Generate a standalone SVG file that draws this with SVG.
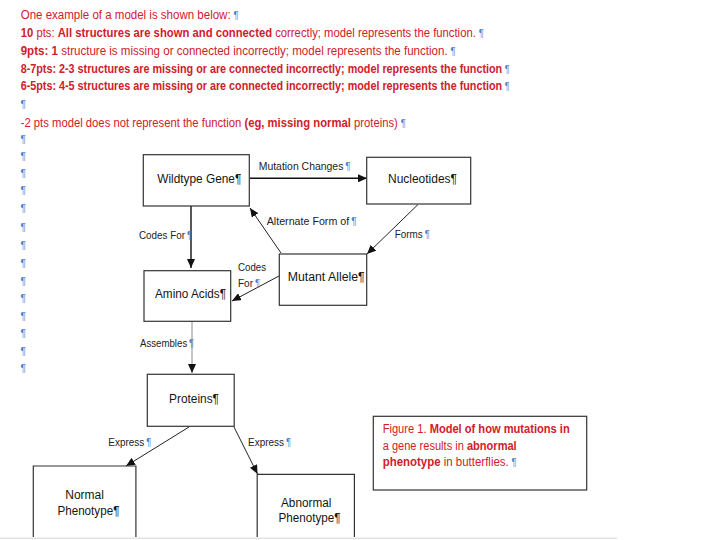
<svg xmlns="http://www.w3.org/2000/svg" width="720" height="540" viewBox="0 0 720 540">
<defs>
<marker id="ah" markerUnits="userSpaceOnUse" markerWidth="9" markerHeight="8" refX="9" refY="4" orient="auto">
<path d="M0,0 L9,4 L0,8 z" fill="#111"/>
</marker>
<style>
.hd{font-family:"Liberation Sans",Arial,sans-serif;font-size:12px;fill:#d0202a}
.b{font-weight:bold}
.pm{font-family:"Liberation Sans",Arial,sans-serif;font-size:10px;fill:#4a7fd0;font-weight:normal}
.box{fill:#fff;stroke:#333;stroke-width:1.2}
.nl{font-family:"Liberation Sans",Arial,sans-serif;font-size:12px;fill:#151515}
.cl{font-family:"Liberation Sans",Arial,sans-serif;font-size:10.5px;fill:#222}
.cn{fill:none;stroke:#222;stroke-width:1;marker-end:url(#ah)}
.thick{stroke:#111;stroke-width:1.4}
.gray{stroke:#8a8a8a}
</style>
</defs>
<rect width="720" height="540" fill="#fff"/>

<g id="header">
<text class="hd" x="20.7" y="19" textLength="218" lengthAdjust="spacingAndGlyphs">One example of a model is shown below:<tspan class="pm" dx="3">¶</tspan></text>
<text class="hd" x="20.7" y="36.7" textLength="463" lengthAdjust="spacingAndGlyphs"><tspan class="b">10</tspan> pts: <tspan class="b">All structures are shown and connected</tspan> correctly; model represents the function.<tspan class="pm" dx="3">¶</tspan></text>
<text class="hd" x="20.7" y="55" textLength="435" lengthAdjust="spacingAndGlyphs"><tspan class="b">9pts: 1</tspan> structure is missing or connected incorrectly; model represents the function.<tspan class="pm" dx="3">¶</tspan></text>
<text class="hd" x="20.7" y="72.7" textLength="489" lengthAdjust="spacingAndGlyphs"><tspan class="b">8-7pts: 2-3 structures are missing or are connected incorrectly; model represents the function</tspan><tspan class="pm" dx="3">¶</tspan></text>
<text class="hd" x="20.7" y="90" textLength="489" lengthAdjust="spacingAndGlyphs"><tspan class="b">6-5pts: 4-5 structures are missing or are connected incorrectly; model represents the function</tspan><tspan class="pm" dx="3">¶</tspan></text>
<text class="hd" x="20.7" y="127.3" textLength="385" lengthAdjust="spacingAndGlyphs">-2 pts model does not represent the function <tspan class="b">(eg, missing normal</tspan> proteins)<tspan class="pm" dx="3">¶</tspan></text>
<g class="pm">
<text x="20.5" y="108">¶</text>
<text x="20.5" y="143">¶</text>
<text x="20.5" y="160">¶</text>
<text x="20.5" y="177">¶</text>
<text x="20.5" y="194">¶</text>
<text x="20.5" y="212">¶</text>
<text x="20.5" y="231">¶</text>
<text x="20.5" y="249">¶</text>
<text x="20.5" y="267">¶</text>
<text x="20.5" y="285">¶</text>
<text x="20.5" y="302">¶</text>
<text x="20.5" y="320">¶</text>
<text x="20.5" y="337">¶</text>
<text x="20.5" y="355">¶</text>
<text x="20.5" y="372">¶</text>
</g>
</g>

<g id="connectors">
<line class="cn thick" x1="250" y1="178.3" x2="367" y2="178.3"/>
<line class="cn thick" x1="191" y1="206" x2="191" y2="268"/>
<line class="cn" x1="418" y1="204.5" x2="367" y2="254"/>
<line class="cn" x1="281" y1="253" x2="250" y2="208"/>
<line class="cn" x1="279" y1="276" x2="232" y2="301"/>
<line class="cn gray" x1="192" y1="321" x2="192" y2="373"/>
<line class="cn" x1="189" y1="427" x2="126" y2="466"/>
<line class="cn" x1="234" y1="427" x2="257.5" y2="474"/>
<text class="cl" x="258.7" y="170" textLength="92" lengthAdjust="spacingAndGlyphs">Mutation Changes<tspan class="pm" dx="2">¶</tspan></text>
<text class="cl" x="139" y="239" textLength="53" lengthAdjust="spacingAndGlyphs">Codes For<tspan class="pm" dx="2">¶</tspan></text>
<text class="cl" x="266.7" y="225" textLength="90" lengthAdjust="spacingAndGlyphs">Alternate Form of<tspan class="pm" dx="2">¶</tspan></text>
<text class="cl" x="394.7" y="238" textLength="35" lengthAdjust="spacingAndGlyphs">Forms<tspan class="pm" dx="2">¶</tspan></text>
<text class="cl" x="238" y="270.5" textLength="28" lengthAdjust="spacingAndGlyphs">Codes</text>
<text class="cl" x="238" y="286.5" textLength="22" lengthAdjust="spacingAndGlyphs">For<tspan class="pm" dx="2">¶</tspan></text>
<text class="cl" x="140" y="347" textLength="54" lengthAdjust="spacingAndGlyphs">Assembles<tspan class="pm" dx="2">¶</tspan></text>
<text class="cl" x="108.3" y="446" textLength="43" lengthAdjust="spacingAndGlyphs">Express<tspan class="pm" dx="2">¶</tspan></text>
<text class="cl" x="248" y="446" textLength="43" lengthAdjust="spacingAndGlyphs">Express<tspan class="pm" dx="2">¶</tspan></text>
</g>

<g id="wildtype-gene">
<rect class="box" x="143.3" y="154.7" width="106" height="51.3"/>
<text class="nl" x="157.3" y="183" textLength="84" lengthAdjust="spacingAndGlyphs">Wildtype Gene¶</text>
</g>
<g id="nucleotides">
<rect class="box" x="366.7" y="157.3" width="104" height="46.7"/>
<text class="nl" x="388" y="183" textLength="69" lengthAdjust="spacingAndGlyphs">Nucleotides¶</text>
</g>
<g id="mutant-allele">
<rect class="box" x="279.3" y="254" width="87.4" height="51.3"/>
<text class="nl" x="287.7" y="281" textLength="77" lengthAdjust="spacingAndGlyphs">Mutant Allele¶</text>
</g>
<g id="amino-acids">
<rect class="box" x="144" y="270.7" width="86.7" height="50.6"/>
<text class="nl" x="155" y="298" textLength="71" lengthAdjust="spacingAndGlyphs">Amino Acids¶</text>
</g>
<g id="proteins">
<rect class="box" x="147.3" y="374.3" width="86.9" height="52"/>
<text class="nl" x="169" y="402.7" textLength="50" lengthAdjust="spacingAndGlyphs">Proteins¶</text>
</g>
<g id="normal-phenotype">
<path class="box" d="M33.3,537 V466 H135.9 V537"/>
<text class="nl" x="84.6" y="498.7" text-anchor="middle">Normal</text>
<text class="nl" x="57.4" y="515.3" textLength="62" lengthAdjust="spacingAndGlyphs">Phenotype¶</text>
</g>
<g id="abnormal-phenotype">
<path class="box" d="M257.2,537 V474.3 H354.4 V537"/>
<text class="nl" x="281" y="506.7" textLength="50.4" lengthAdjust="spacingAndGlyphs">Abnormal</text>
<text class="nl" x="278.6" y="522" textLength="62" lengthAdjust="spacingAndGlyphs">Phenotype¶</text>
</g>
<g id="caption">
<rect class="box" x="373.3" y="416.3" width="213.4" height="73.7"/>
<text class="hd" x="382.7" y="433.3" textLength="187" lengthAdjust="spacingAndGlyphs">Figure 1. <tspan class="b">Model of how mutations in</tspan></text>
<text class="hd" x="382.7" y="450" textLength="134" lengthAdjust="spacingAndGlyphs">a gene results in <tspan class="b">abnormal</tspan></text>
<text class="hd" x="382.7" y="465.7" textLength="134" lengthAdjust="spacingAndGlyphs"><tspan class="b">phenotype</tspan> in butterflies.<tspan class="pm" dx="3">¶</tspan></text>
</g>
<line x1="0" y1="538.3" x2="617" y2="538.3" stroke="#e4e4e4" stroke-width="1.5"/>
</svg>
